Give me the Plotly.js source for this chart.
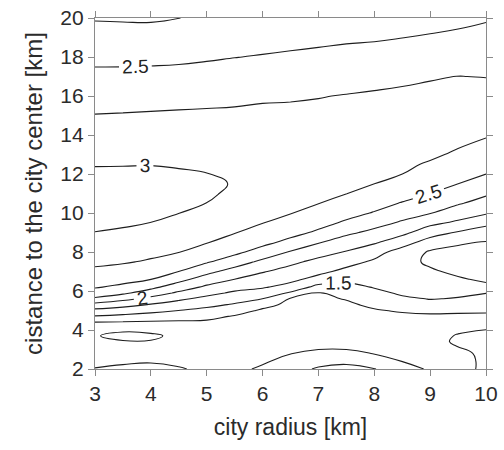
<!DOCTYPE html>
<html>
<head>
<meta charset="utf-8">
<script src="https://cdn.plot.ly/plotly-3.0.1.min.js"></script>
<style>html,body{margin:0;padding:0;background:#fff;}#chart{width:504px;height:450px;}</style>
</head>
<body>
<div id="chart"></div>
<script>
// city radius [km] (x) and distance to the city center [km] (y) of the grid
const radius = [3, 3.5, 4, 4.5, 5, 5.5, 6, 6.5, 7, 7.5, 8, 8.5, 9, 9.5, 10];
const distance = [2, 2.4, 2.8, 3.2, 3.4, 3.7, 4.0, 4.4, 4.7, 5.0, 5.3, 5.6, 5.9, 6.2, 6.6, 7.0, 7.5, 8.0, 8.5, 9.0, 9.5, 10.0, 10.5, 11.0, 11.5, 12.0, 12.5, 13, 14, 15, 16, 17, 18, 19, 20];

// values, one column per city radius (bottom to top)
const zR3   = [0.99,1.06,1.09,1.07,1.04,1.01,1.08, 1.246,1.484,1.684,1.922,2.21,2.385,2.519, 2.613,2.708,2.793,2.861,2.929,2.997,3.034, 3.07,3.106,3.099,3.064,3.028,2.991,2.944, 2.85,2.757,2.654,2.551,2.447,2.34,2.234];
const zR3_5 = [0.95,1.04,1.08,1.06,1.01,0.96,1.02, 1.234,1.443,1.634,1.833,2.069,2.296,2.449, 2.571,2.667,2.771,2.84,2.91,2.979,3.021, 3.052,3.082,3.088,3.057,3.026,2.993,2.947, 2.855,2.764,2.66,2.553,2.446,2.337,2.228];
const zR4   = [0.93,1.02,1.07,1.05,1.01,0.97,1.04, 1.223,1.396,1.571,1.734,1.928,2.132,2.311, 2.502,2.6,2.725,2.803,2.868,2.934,2.999, 3.027,3.053,3.08,3.052,3.025,2.996,2.951, 2.862,2.772,2.668,2.56,2.449,2.336,2.225];
const zR4_5 = [0.98,1.05,1.08,1.07,1.05,1.04,1.08, 1.216,1.35,1.498,1.644,1.793,1.957,2.125, 2.328,2.499,2.632,2.756,2.819,2.881,2.944, 3.002,3.022,3.042,3.037,3.015,2.988,2.946, 2.863,2.779,2.678,2.567,2.458,2.353,2.248];
const zR5   = [1.05,1.08,1.1,1.11,1.11,1.12,1.15, 1.22,1.306,1.435,1.563,1.688,1.818,1.955, 2.136,2.318,2.525,2.65,2.762,2.821,2.881, 2.94,2.999,3.02,3.024,3.004,2.97,2.933, 2.858,2.784,2.69,2.582,2.476,2.378,2.28];
const zR5_5 = [1.04,1.07,1.09,1.1,1.1,1.11,1.13, 1.18,1.233,1.341,1.477,1.596,1.712,1.833, 1.999,2.154,2.375,2.554,2.663,2.759,2.805, 2.852,2.905,2.975,2.992,2.972,2.94,2.91, 2.85,2.785,2.706,2.6,2.496,2.408,2.32];
const zR6   = [0.975,1.02,1.06,1.08,1.09,1.1,1.12, 1.15,1.19,1.22,1.313,1.499,1.644,1.774, 1.895,2.018,2.196,2.409,2.563,2.667,2.756, 2.787,2.817,2.848,2.879,2.909,2.94,2.911, 2.852,2.794,2.723,2.617,2.511,2.429,2.35];
const zR6_5 = [0.85,0.95,1.005,1.05,1.07,1.08,1.1, 1.12,1.15,1.17,1.2,1.23,1.471,1.663, 1.8125,1.9125,2.054,2.232,2.4375,2.573,2.677, 2.758,2.785,2.812,2.839,2.867,2.894,2.899, 2.846,2.793,2.731,2.629,2.526,2.444,2.37];
const zR7   = [0.72,0.84,0.94,1.06,1.07,1.08,1.09, 1.1,1.12,1.14,1.17,1.2,1.23,1.417, 1.667,1.8125,1.9375,2.089,2.269,2.462,2.577, 2.673,2.755,2.782,2.809,2.836,2.862,2.889, 2.856,2.801,2.742,2.641,2.54,2.459,2.39];
const zR7_5 = [0.68,0.8,0.93,1.07,1.08,1.09,1.1, 1.12,1.15,1.18,1.21,1.264,1.349,1.435, 1.555,1.685,1.838,1.985,2.141,2.3,2.467, 2.574,2.667,2.753,2.779,2.805,2.832,2.858, 2.868,2.813,2.759,2.661,2.557,2.472,2.41];
const zR8   = [0.74,0.88,1.01,1.06,1.08,1.1,1.12, 1.15,1.19,1.23,1.299,1.373,1.446,1.512, 1.574,1.635,1.712,1.846,2.031,2.1875,2.338, 2.485,2.578,2.664,2.751,2.776,2.802,2.828, 2.88,2.826,2.773,2.689,2.55,2.486,2.43];
const zR8_5 = [0.9,1.005,1.05,1.08,1.09,1.1,1.12, 1.16,1.2,1.276,1.372,1.468,1.53,1.55, 1.56,1.555,1.545,1.645,1.864,2.0625,2.219, 2.355,2.487,2.578,2.664,2.751,2.778,2.807, 2.863,2.841,2.786,2.712,2.603,2.497,2.44];
const zR9   = [1.03,1.06,1.08,1.09,1.09,1.1,1.12, 1.16,1.21,1.304,1.429,1.507,1.523,1.539, 1.539,1.517,1.478,1.475,1.639,1.865,2.0625, 2.262,2.381,2.501,2.578,2.656,2.734,2.775, 2.837,2.872,2.801,2.734,2.628,2.521,2.41];
const zR9_5 = [1.06,1.07,1.05,0.99,0.96,0.98,1.04, 1.12,1.2,1.297,1.398,1.49,1.53,1.56, 1.514,1.475,1.429,1.458,1.521,1.729,1.955, 2.125,2.273,2.386,2.501,2.576,2.652,2.727, 2.802,2.867,2.814,2.752,2.65,2.546,2.44];
const zR10  = [0.965,0.96,0.955,0.95,0.95,0.965,0.995, 1.116,1.203,1.285,1.359,1.433,1.505,1.528, 1.48,1.445,1.4,1.444,1.489,1.628,1.818, 2.026,2.158,2.283,2.391,2.501,2.574,2.647, 2.769,2.831,2.808,2.746,2.657,2.568,2.48];

const xTicks = [3, 4, 5, 6, 7, 8, 9, 10];
const yTicks = [2, 4, 6, 8, 10, 12, 14, 16, 18, 20];

const zCols = [zR3, zR3_5, zR4, zR4_5, zR5, zR5_5, zR6, zR6_5, zR7, zR7_5, zR8, zR8_5, zR9, zR9_5, zR10];

const FONT = 'Liberation Sans, Arial, sans-serif';
const LINE = {color: '#1e1e1e', width: 1.1, smoothing: 1.3};

function contourTrace(start, end, size, labels) {
  return {
    type: 'contour', x: radius, y: distance, z: zCols, transpose: true,
    autocontour: false,
    contours: {start: start, end: end, size: size, coloring: 'none', showlabels: labels,
               labelfont: {family: FONT, size: 19, color: '#222'}},
    line: LINE, showscale: false, hoverinfo: 'skip'
  };
}

const data = [
  contourTrace(0.75, 2.8, 0.5, false),  // 0.75, 1.25, 1.75, 2.25, 2.75
  contourTrace(1.0, 1.1, 0.5, false),   // 1.0
  contourTrace(1.5, 3.0, 0.5, true)     // 1.5, 2, 2.5, 3 (labelled)
];

const axisCommon = {
  showgrid: false, zeroline: false, showline: true, linecolor: '#8a8a8a', linewidth: 1.2,
  ticks: 'outside', ticklen: 6, tickwidth: 1, tickcolor: '#8a8a8a', mirror: 'ticks',
  tickfont: {family: FONT, size: 21, color: '#2b2b2b'}
};

const layout = {
  width: 504, height: 450,
  margin: {l: 95, r: 18, t: 18, b: 81},
  paper_bgcolor: '#fff', plot_bgcolor: '#fff',
  showlegend: false,
  xaxis: Object.assign({}, axisCommon, {
    range: [3, 10], tickvals: xTicks, ticktext: xTicks.map(String),
    title: {text: 'city radius [km]', font: {family: FONT, size: 23, color: '#2b2b2b'}, standoff: 14}
  }),
  yaxis: Object.assign({}, axisCommon, {
    range: [2, 20], tickvals: yTicks, ticktext: yTicks.map(String),
    title: {text: 'cistance to the city center [km]', font: {family: FONT, size: 24, color: '#2b2b2b'}, standoff: 10}
  })
};

Plotly.newPlot('chart', data, layout, {staticPlot: true, displayModeBar: false});
</script>
</body>
</html>
